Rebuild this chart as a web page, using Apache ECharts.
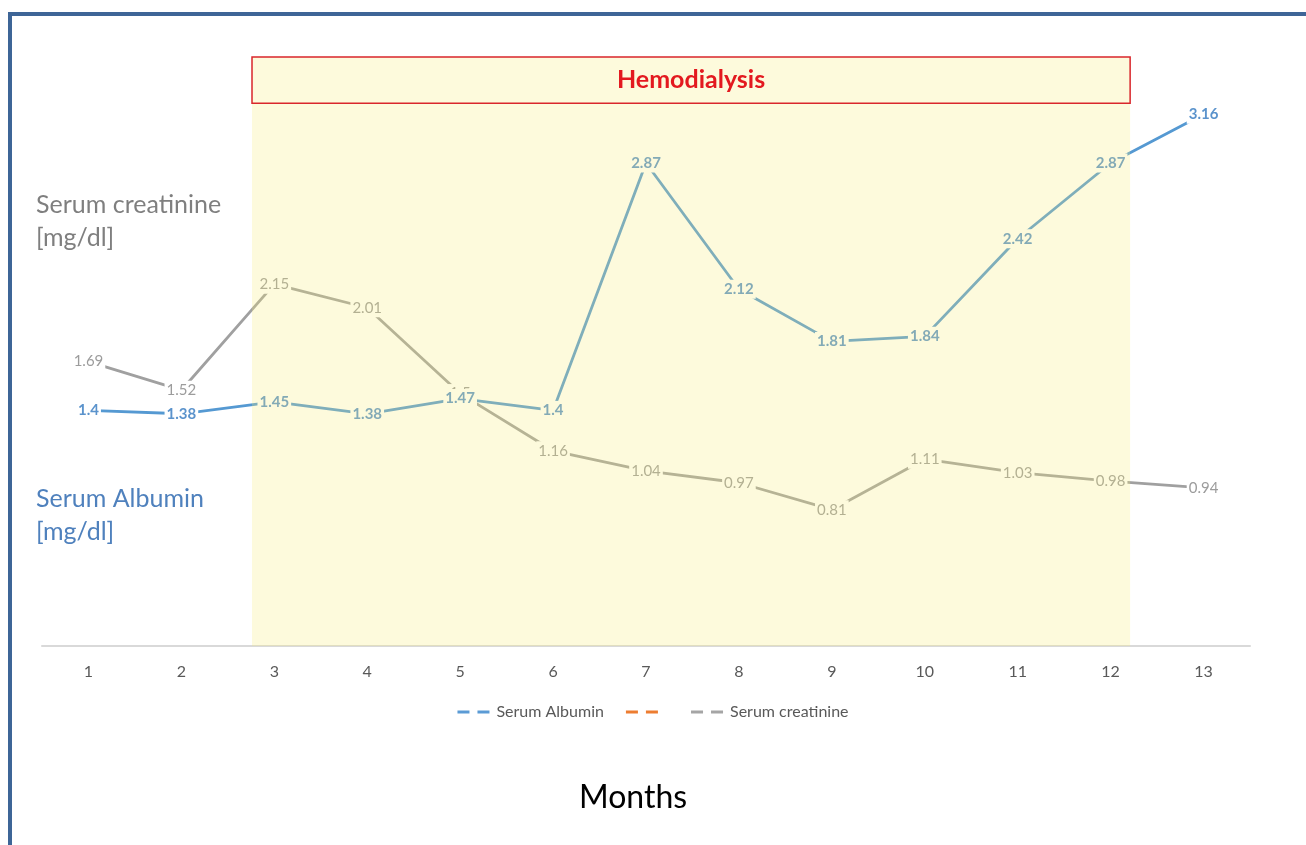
<!DOCTYPE html>
<html>
<head>
<meta charset="utf-8">
<script src="https://cdn.jsdelivr.net/npm/echarts@6/dist/echarts.min.js"></script>
<style>
  html, body { margin: 0; padding: 0; background: #fff; }
  #main { width: 1306px; height: 845px; }
</style>
</head>
<body>
<div id="main"></div>
<script>
var months = ['1', '2', '3', '4', '5', '6', '7', '8', '9', '10', '11', '12', '13'];
var albumin = [1.4, 1.38, 1.45, 1.38, 1.47, 1.4, 2.87, 2.12, 1.81, 1.84, 2.42, 2.87, 3.16];
var creatinine = [1.69, 1.52, 2.15, 2.01, 1.5, 1.16, 1.04, 0.97, 0.81, 1.11, 1.03, 0.98, 0.94];
// hemodialysis period, in units of the hidden 0..13 axis
var hdStart = 2.26;
var hdEnd = 11.71;

var dom = document.getElementById('main');
var myChart = echarts.init(dom, null, { renderer: 'canvas' });

var font = 'Lato, "Open Sans", sans-serif';
var legendIcon = 'path://M0,0 H12 V3 H0 Z M20,0 H32 V3 H20 Z';

var option = {
  backgroundColor: '#fff',
  animation: false,
  textStyle: { fontFamily: font },
  grid: { left: 42, right: 56, top: 57, bottom: 199 },
  legend: {
    top: 699,
    left: 'center',
    data: ['Serum Albumin', ' ', 'Serum creatinine'],
    icon: legendIcon,
    itemWidth: 40,
    itemHeight: 3,
    itemGap: 22,
    textStyle: { color: '#595959', fontSize: 16, fontFamily: font, padding: [0, 0, 0, -2] }
  },
  xAxis: [
    {
      type: 'category',
      data: months,
      boundaryGap: true,
      axisLine: { lineStyle: { color: '#d9d9d9', width: 2 } },
      axisTick: { show: false },
      axisLabel: { color: '#595959', fontSize: 16, margin: 18, fontFamily: font }
    },
    {
      type: 'value',
      min: 0,
      max: 13,
      show: false
    }
  ],
  yAxis: {
    type: 'value',
    min: 0,
    max: 3.5,
    show: false,
    splitLine: { show: false }
  },
  graphic: [
    {
      type: 'polyline',
      shape: { points: [[10, 845], [10, 14], [1306, 14]] },
      style: { stroke: '#3e6597', lineWidth: 4, fill: null }
    },
    {
      type: 'text',
      left: 36,
      top: 188,
      style: {
        text: 'Serum creatinine\n[mg/dl]',
        fill: '#7f7f7f',
        font: '25px ' + font,
        lineHeight: 33
      }
    },
    {
      type: 'text',
      left: 36,
      top: 482,
      style: {
        text: 'Serum Albumin\n[mg/dl]',
        fill: '#4f81bd',
        font: '25px ' + font,
        lineHeight: 33
      }
    },
    {
      type: 'text',
      left: 579,
      top: 782,
      style: {
        text: 'Months',
        fill: '#000',
        font: '32px ' + font
      }
    }
  ],
  series: [
    {
      name: 'Serum Albumin',
      type: 'line',
      data: albumin,
      z: 4,
      color: '#5b9bd5',
      symbol: 'circle',
      symbolSize: 1,
      lineStyle: { width: 2.8, color: '#5599d2' },
      label: {
        show: true,
        position: 'inside',
        color: '#5b93cc',
        fontWeight: 'bold',
        fontSize: 15,
        fontFamily: font,
        backgroundColor: '#fff',
        padding: [2, 2]
      }
    },
    {
      name: ' ',
      type: 'line',
      data: [],
      color: '#ed7d31'
    },
    {
      name: 'Serum creatinine',
      type: 'line',
      data: creatinine,
      z: 3,
      color: '#a5a5a5',
      symbol: 'circle',
      symbolSize: 1,
      lineStyle: { width: 2.8, color: '#a0a0a0' },
      label: {
        show: true,
        position: 'inside',
        color: '#9c9c9c',
        fontSize: 15,
        fontFamily: font,
        backgroundColor: '#fff',
        padding: [2, 2]
      }
    },
    {
      name: 'hd',
      type: 'line',
      xAxisIndex: 1,
      data: [],
      z: 20,
      silent: true,
      markArea: {
        silent: true,
        z: 20,
        data: [
          [
            { xAxis: hdStart, yAxis: 0, itemStyle: { color: 'rgba(246,234,120,0.26)' } },
            { xAxis: hdEnd, yAxis: 3.5 }
          ],
          [
            {
              xAxis: hdStart,
              yAxis: 3.225,
              name: 'Hemodialysis',
              itemStyle: { color: 'rgba(0,0,0,0)', borderColor: '#d9262b', borderWidth: 1.5 },
              label: {
                show: true,
                position: 'inside',
                color: '#e3191f',
                fontWeight: 'bold',
                fontSize: 25,
                fontFamily: font
              }
            },
            { xAxis: hdEnd, yAxis: 3.5 }
          ]
        ]
      }
    }
  ]
};

if (option && typeof option === 'object') {
  myChart.setOption(option);
}

window.addEventListener('resize', myChart.resize);
</script>
</body>
</html>
